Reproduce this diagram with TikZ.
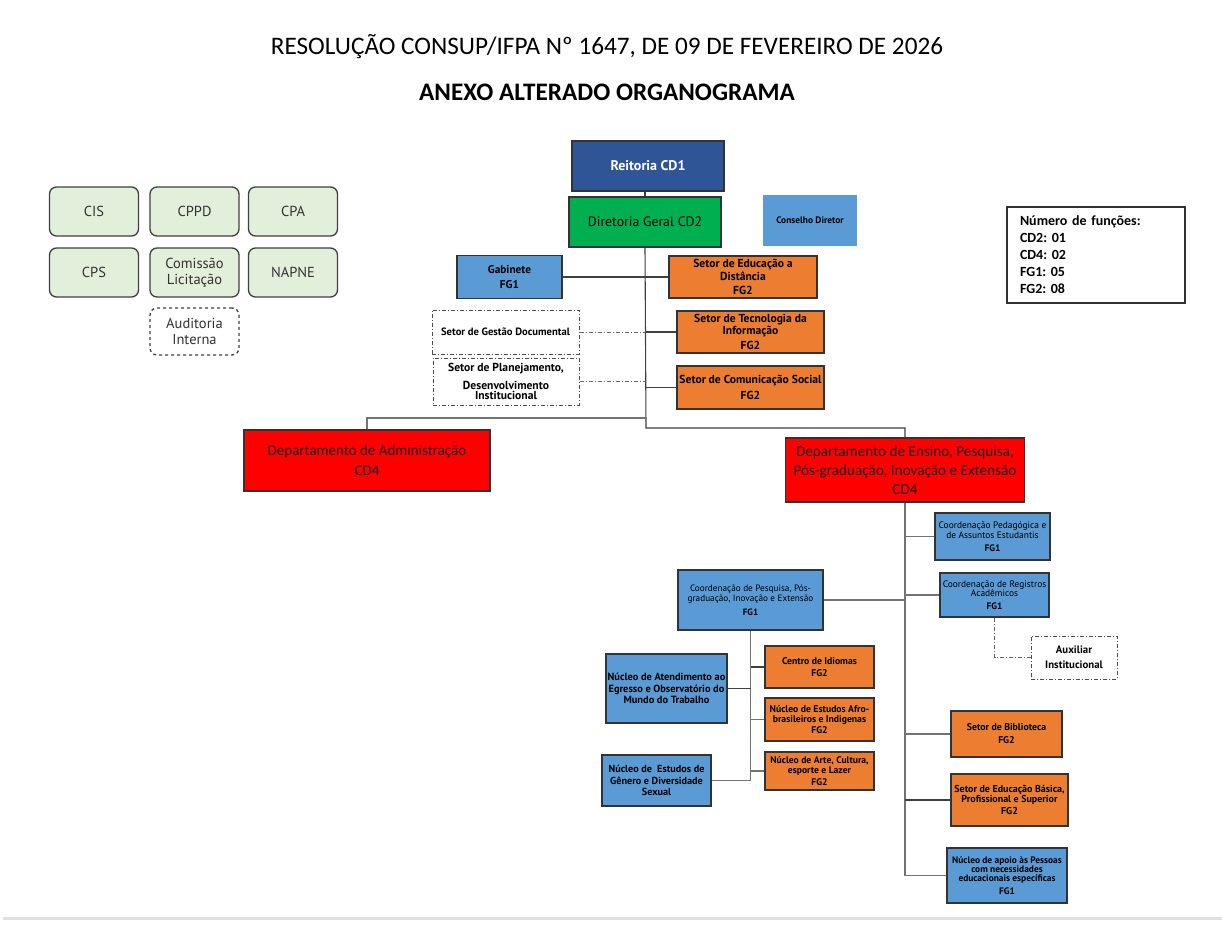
\documentclass[tikz,border=0pt]{standalone}
\usepackage{fontspec}
\setmainfont{PT Sans}
\newfontfamily\calfont{Carlito}
\usepackage{xcolor}
\definecolor{reitblue}{HTML}{2F5597}
\definecolor{dirgreen}{HTML}{00B050}
\definecolor{unitblue}{HTML}{5B9BD5}
\definecolor{unitorange}{HTML}{ED7D31}
\definecolor{comgreen}{HTML}{E2EFDA}
\newcommand{\ptsz}[2]{\fontsize{#1}{#2}\selectfont}

\begin{document}
\begin{tikzpicture}[x=1pt,y=-1pt,
  unitbox/.style={draw=black!80, line width=1.2, inner sep=1, align=center, text=black,
    font=\bfseries\ptsz{11.6}{12.5}},
  bluebox/.style={unitbox, fill=unitblue},
  orangebox/.style={unitbox, fill=unitorange},
  deptbox/.style={unitbox, fill=red, text=black!90, font=\calfont\ptsz{15}{20}},
  dashbox/.style={draw=black!70, line width=1, dash pattern=on 4pt off 2pt on 1pt off 2pt,
    fill=white, align=center, text=black},
  comitebox/.style={draw=black!75, line width=1.3, rounded corners=7, fill=comgreen,
    minimum width=89, minimum height=49, align=center, text=black!80, font=\ptsz{14.5}{16}},
  link/.style={draw=black!75, line width=1.1},
  sublink/.style={draw=black!55, line width=1.4},
  dashlink/.style={draw=black!60, line width=0.9, dash pattern=on 4pt off 2pt on 1pt off 2pt}]

  \useasboundingbox[fill=white] (0,0) rectangle (1222,942);

  \node[font=\calfont\fontsize{25.2}{30}\selectfont] (tit1) at (607,47) {RESOLUÇÃO CONSUP/IFPA Nº 1647, DE 09 DE FEVEREIRO DE 2026};
  \node[font=\calfont\bfseries\fontsize{25.2}{30}\selectfont] (tit2) at (607,92) {ANEXO ALTERADO ORGANOGRAMA};

  \node[comitebox] (cis) at (94,211.5) {CIS};
  \node[comitebox] (cppd) at (194.5,211.5) {CPPD};
  \node[comitebox] (cpa) at (293,211.5) {CPA};
  \node[comitebox] (cps) at (94,272.5) {CPS};
  \node[comitebox] (licit) at (194.5,272.5) {Comissão\\Licitação};
  \node[comitebox] (napne) at (293,272.5) {NAPNE};
  \node[comitebox, fill=white, dashed, minimum height=47] (audit) at (194.5,331.5) {Auditoria\\Interna};

  \node[draw=black!80, line width=1.2, minimum width=178, minimum height=96, align=left,
    text width=152, font=\calfont\bfseries\ptsz{14}{17}\frenchspacing] (info) at (1096,255)
    {Número de funções:\\CD2: 01\\CD4: 02\\FG1: 05\\FG2: 08};

  \node[unitbox, fill=reitblue, text=white, minimum width=152, minimum height=50,
    font=\bfseries\ptsz{14}{16}] (reit) at (648,166) {Reitoria CD1};
  \node[unitbox, fill=dirgreen, minimum width=152, minimum height=50,
    font=\ptsz{13.8}{16}] (dir) at (645,222) {Diretoria Geral CD2};
  \node[bluebox, draw=none, minimum width=94, minimum height=51,
    font=\bfseries\ptsz{9.4}{11}] (cons) at (810,220.5) {Conselho Diretor};

  \node[bluebox, minimum width=105, minimum height=43, font=\bfseries\ptsz{11.3}{15}] (gab) at (509.5,277) {Gabinete\\FG1};
  \node[orangebox, minimum width=148, minimum height=42] (ead) at (743,277) {Setor de Educação a\\Distância\\[2pt]FG2};
  \node[dashbox, minimum width=147, minimum height=44, font=\bfseries\ptsz{10.6}{12}] (gdoc) at (505.5,332) {Setor de Gestão Documental};
  \node[dashbox, minimum width=146, minimum height=47, font=\bfseries\ptsz{11.6}{10.5}] (plan) at (506,381.5) {Setor de Planejamento,\\[6pt]Desenvolvimento\\Institucional};
  \node[orangebox, minimum width=147, minimum height=42] (ti) at (750.5,332) {Setor de Tecnologia da\\Informação\\[2.5pt]FG2};
  \node[orangebox, minimum width=147, minimum height=43] (com) at (750.5,387.5) {Setor de Comunicação Social\\[3.5pt]FG2};

  \node[deptbox, minimum width=246, minimum height=61] (adm) at (367,460.5) {Departamento de Administração\\CD4};
  \node[deptbox, minimum width=239, minimum height=64, font=\calfont\ptsz{15.2}{19}] (ens) at (905,470) {Departamento de Ensino, Pesquisa,\\Pós-graduação, Inovação e Extensão\\CD4};

  \node[bluebox, line width=2.4, minimum width=115, minimum height=47, font=\ptsz{9.4}{9.5}] (ped) at (992.5,536.5) {Coordenação Pedagógica e\\de Assuntos Estudantis\\[3.5pt]\bfseries FG1};
  \node[bluebox, line width=2.4, minimum width=109, minimum height=44, font=\ptsz{9.4}{9.5}] (reg) at (994.5,595) {Coordenação de Registros\\Acadêmicos\\[3.5pt]\bfseries FG1};
  \node[dashbox, minimum width=86, minimum height=43, font=\bfseries\ptsz{10.8}{15}] (aux) at (1074,657.5) {Auxiliar\\Institucional};
  \node[bluebox, minimum width=145, minimum height=60, font=\ptsz{9.2}{10}] (pesq) at (750.5,600) {Coordenação de Pesquisa, Pós-\\graduação, Inovação e Extensão\\[4pt]\bfseries FG1};
  \node[orangebox, minimum width=111, minimum height=46, font=\bfseries\ptsz{9.8}{13}] (bib) at (1006.5,734) {Setor de Biblioteca\\FG2};
  \node[orangebox, minimum width=117, minimum height=52, font=\bfseries\ptsz{10}{9.5}] (bas) at (1009.5,800) {Setor de Educação Básica,\\Profissional e Superior\\[2.5pt]FG2};
  \node[bluebox, minimum width=120, minimum height=55, font=\bfseries\ptsz{9.4}{9.2}] (apoio) at (1007,875.5) {Núcleo de apoio às Pessoas\\com necessidades\\educacionais específicas\\[3.5pt]FG1};

  \node[orangebox, minimum width=109, minimum height=42, font=\bfseries\ptsz{9.7}{12}] (idi) at (819.5,667) {Centro de Idiomas\\FG2};
  \node[bluebox, minimum width=121, minimum height=69, font=\bfseries\ptsz{10.4}{11.5}] (egr) at (666.5,688.5) {Núcleo de Atendimento ao\\Egresso e Observatório do\\Mundo do Trabalho};
  \node[orangebox, minimum width=109, minimum height=43, font=\bfseries\ptsz{9.7}{10}] (afro) at (819.5,719.5) {Núcleo de Estudos Afro-\\brasileiros e Indigenas\\[1pt]FG2};
  \node[orangebox, minimum width=109, minimum height=38, font=\bfseries\ptsz{9.6}{10}] (arte) at (819.5,771) {Núcleo de Arte, Cultura,\\esporte e Lazer\\[2pt]FG2};
  \node[bluebox, minimum width=109, minimum height=51, font=\bfseries\ptsz{10.2}{11.5}] (gen) at (656.5,780.5) {Núcleo de~ Estudos de\\Gênero e Diversidade\\Sexual};

  \coordinate (jA) at (646,418);
  \coordinate (jB) at (646,428);

  \draw[link] (dir.north) -- (dir.north |- reit.south);
  \draw[link] (dir.south) -- (jB) -| (ens.north);
  \draw[sublink] (jA) -| (adm.north);
  \draw[link] (gab.east) -- (ead.west);
  \draw[dashlink] (gdoc.east) -- (gdoc.east -| jA);
  \draw[link] (gdoc.east -| jA) -- (ti.west);
  \draw[dashlink] (plan.east) -- (plan.east -| jA);
  \draw[link] (com.west) -- (com.west -| jA);

  \draw[sublink] (ens.south) -- (ens.south |- apoio.west);
  \draw[sublink] (ped.west) -- (ped.west -| ens.south);
  \draw[sublink] (reg.west) -- (reg.west -| ens.south);
  \draw[sublink] (pesq.east) -- (pesq.east -| ens.south);
  \draw[sublink] (bib.west) -- (bib.west -| ens.south);
  \draw[link] (bas.west) -- (bas.west -| ens.south);
  \draw[sublink] (apoio.west) -- (apoio.west -| ens.south);
  \draw[dashlink] (reg.south) |- (aux.west);

  \draw[sublink] (pesq.south) -- (pesq.south |- gen.east);
  \draw[link] (idi.west) -- (idi.west -| pesq.south);
  \draw[link] (egr.east) -- (egr.east -| pesq.south);
  \draw[sublink] (afro.west) -- (afro.west -| pesq.south);
  \draw[sublink] (arte.west) -- (arte.west -| pesq.south);
  \draw[sublink] (gen.east) -- (gen.east -| pesq.south);

  \draw[black!12, line width=3] (3,918) -- (1222,918);
\end{tikzpicture}
\end{document}
